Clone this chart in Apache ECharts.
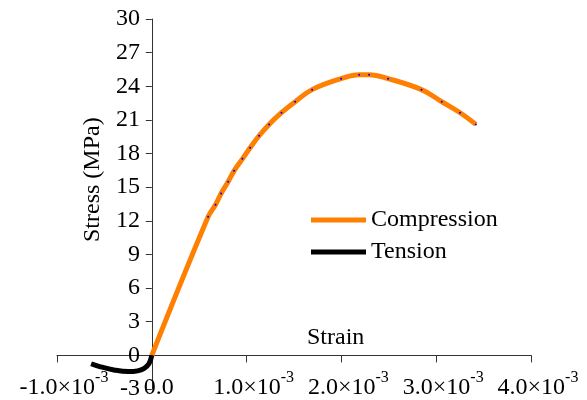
<!DOCTYPE html>
<html><head><meta charset="utf-8">
<script src="https://cdn.jsdelivr.net/npm/echarts@6/dist/echarts.min.js"></script>
<style>html,body{margin:0;padding:0;background:#fff}#c{width:587px;height:400px}</style>
</head><body><div id="c"></div>
<script>
// strain in units of 1e-3, stress in MPa
const compStrain = [0, 0.594, 0.672, 0.731, 0.805, 0.868, 0.956, 1.037, 1.132, 1.237, 1.368, 1.512, 1.691, 1.997, 2.187, 2.292, 2.493, 2.845, 3.059, 3.252, 3.418];
const compStress = [0, 12.36, 13.43, 14.44, 15.48, 16.46, 17.53, 18.52, 19.59, 20.6, 21.64, 22.62, 23.7, 24.68, 25.03, 25.03, 24.68, 23.7, 22.62, 21.64, 20.6];
const tensStrain = [0, -0.03, -0.08, -0.15, -0.25, -0.4, -0.55, -0.64];
const tensStress = [0, -0.75, -1.15, -1.38, -1.45, -1.3, -1.0, -0.75];
const xTicks = [-1, 0, 1, 2, 3, 4];
const yTicks = [-3, 0, 3, 6, 9, 12, 15, 18, 21, 24, 27, 30];
const seriesNames = ['Compression', 'Tension'];
const xTitle = 'Strain';
const yTitle = 'Stress (MPa)';

const FONT = '"Liberation Serif","Times New Roman",serif';
const chart = echarts.init(document.getElementById('c'), null, {renderer: 'canvas'});
const comp = compStrain.map((x, i) => [x, compStress[i]]);
const tens = tensStrain.map((x, i) => [x, tensStress[i]]);
const axisCol = '#333';
chart.setOption({
  animation: false,
  backgroundColor: '#fff',
  grid: {left: 57, right: 56, top: 19, bottom: 11, containLabel: false, outerBoundsMode: 'none'},
  xAxis: {
    type: 'value', min: xTicks[0], max: xTicks[xTicks.length - 1], interval: 1,
    axisLine: {show: true, onZero: true, lineStyle: {color: axisCol, width: 1}},
    axisTick: {show: true, inside: false, length: 7, lineStyle: {color: axisCol}},
    splitLine: {show: false},
    axisLabel: {
      margin: -19, hideOverlap: false,
      formatter: v => v === 0 ? '{v|0.0}' : '{v|' + v.toFixed(1) + '×10}{s|-3}',
      rich: {
        v: {fontFamily: FONT, fontSize: 24, color: '#000', padding: [0, 0, 0, 14], lineHeight: 30, verticalAlign: 'bottom'},
        s: {fontFamily: FONT, fontSize: 16, color: '#000', verticalAlign: 'top', lineHeight: 16}
      }
    }
  },
  yAxis: {
    type: 'value', min: yTicks[0], max: yTicks[yTicks.length - 1], interval: 3,
    axisLine: {show: true, onZero: true, lineStyle: {color: axisCol, width: 1}},
    axisTick: {show: true, length: 6, lineStyle: {color: axisCol}},
    splitLine: {show: false},
    axisLabel: {margin: -83, fontFamily: FONT, fontSize: 24, color: '#000', hideOverlap: false, showMinLabel: true}
  },
  legend: {
    left: 306, top: 203, orient: 'vertical', itemGap: 8,
    itemWidth: 55, itemHeight: 5, icon: 'rect',
    textStyle: {fontFamily: FONT, fontSize: 24, color: '#000', padding: [0, 0, 0, 0]},
    data: [
      {name: seriesNames[0], itemStyle: {color: '#FF8000'}},
      {name: seriesNames[1], itemStyle: {color: '#000'}}
    ]
  },
  graphic: [
    {type: 'text', left: 307, top: 326, style: {text: xTitle, font: '24px ' + FONT, fill: '#000'}},
    {type: 'text', x: 81, y: 242, rotation: Math.PI / 2, style: {text: yTitle, font: '24px ' + FONT, fill: '#000'}}
  ],
  series: [
    {name: seriesNames[0], type: 'line', data: comp, smooth: 0.4,
     symbol: 'circle', symbolSize: v => (v[0] === 0 ? 0 : 2),
     itemStyle: {color: '#0000ff', borderWidth: 0},
     lineStyle: {color: '#FF8000', width: 5}, z: 2},
    {name: seriesNames[1], type: 'line', data: tens, smooth: 0.4, showSymbol: false,
     itemStyle: {color: '#000'},
     lineStyle: {color: '#000', width: 5}, z: 3}
  ]
});
</script></body></html>
